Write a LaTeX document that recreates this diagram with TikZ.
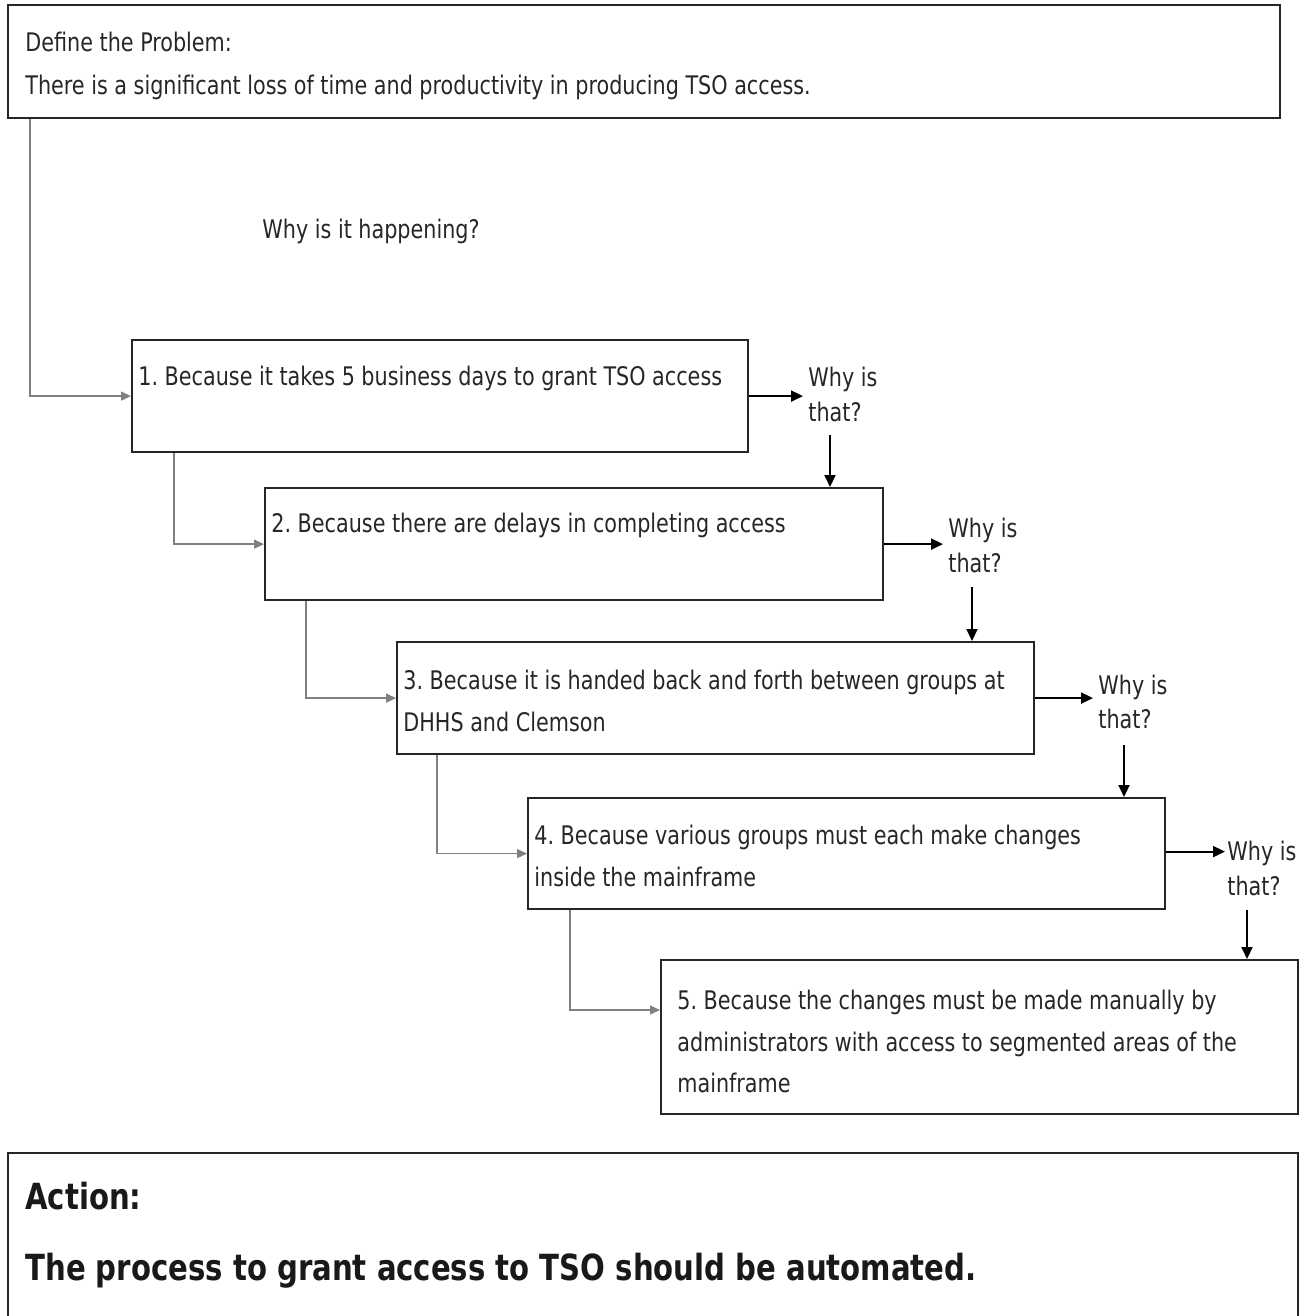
\documentclass[tikz,border=0pt]{standalone}
\usepackage{fontspec}
\setmainfont[FakeStretch=0.9]{DejaVu Sans Condensed}
\usetikzlibrary{arrows.meta,calc}
\frenchspacing

\begin{document}
\begin{tikzpicture}[x=0.5pt,y=-0.5pt,
  box/.style={draw=black!85, line width=1.1pt, inner sep=0, anchor=north west},
  txt/.style={inner sep=0, anchor=base west, text=black!85, font=\fontsize{12.8}{15}\selectfont},
  bigtxt/.style={inner sep=0, anchor=base west, text=black!90, font=\bfseries\fontsize{18}{21}\selectfont},
  link/.style={draw=gray, line width=0.7pt, -{Triangle[length=5pt,width=4.5pt]}},
  whyarrow/.style={draw=black, line width=1pt, -{Triangle[length=6pt,width=5.5pt]}},
]
\useasboundingbox (0,0) rectangle (1299,1316);
\clip (0,0) rectangle (1299,1316);

% problem statement
\node[box, minimum width=636pt, minimum height=56.5pt] (top) at (7,4) {};
\node[txt] (top1) at (25,52) {Define the Problem:};
\node[txt] (top2) at (25,95) {There is a significant loss of time and productivity in producing TSO access.};
\node[txt] (q) at (262,239) {Why is it happening?};

% the five whys
\node[box, minimum width=308pt, minimum height=56pt] (b1) at (131,339) {};
\node[txt] (t1) at (138,385) {1. Because it takes 5 business days to grant TSO access};

\node[box, minimum width=309pt, minimum height=56pt] (b2) at (264,487) {};
\node[txt] (t2) at (271,532) {2. Because there are delays in completing access};

\node[box, minimum width=318.5pt, minimum height=56pt] (b3) at (396,641) {};
\node[txt] (t3a) at (403,689) {3. Because it is handed back and forth between groups at};
\node[txt] (t3b) at (403,731) {DHHS and Clemson};

\node[box, minimum width=318.5pt, minimum height=55.5pt] (b4) at (527,797) {};
\node[txt] (t4a) at (534,844) {4. Because various groups must each make changes};
\node[txt] (t4b) at (534,886) {inside the mainframe};

\node[box, minimum width=318.5pt, minimum height=77pt] (b5) at (660,959) {};
\node[txt] (t5a) at (677,1009) {5. Because the changes must be made manually by};
\node[txt] (t5b) at (677,1051) {administrators with access to segmented areas of the};
\node[txt] (t5c) at (677,1092) {mainframe};

% "Why is that?" questions
\node[txt] (w1a) at (808,386) {Why is};
\node[txt] (w1b) at (808,421) {that?};
\node[txt] (w2a) at (948,537) {Why is};
\node[txt] (w2b) at (948,572) {that?};
\node[txt] (w3a) at (1098,694) {Why is};
\node[txt] (w3b) at (1098,728) {that?};
\node[txt] (w4a) at (1227,860) {Why is};
\node[txt] (w4b) at (1227,895) {that?};

% grey links from each level to the next
\draw[link] ($(top.south west)+(23,0)$) |- (b1.west);
\draw[link] ($(b1.south west)+(43,0)$) |- (b2.west);
\draw[link] ($(b2.south west)+(42,0)$) |- (b3.west);
\draw[link] ($(b3.south west)+(41,0)$) |- (b4.west);
\draw[link] ($(b4.south west)+(43,0)$) |- ($(b5.north west)+(0,51)$);

% arrows out to the questions
\draw[whyarrow, shorten >=2.5pt] (b1.east) -- (b1.east -| w1a.west);
\draw[whyarrow, shorten >=2.5pt] (b2.east) -- (b2.east -| w2a.west);
\draw[whyarrow, shorten >=2.5pt] (b3.east) -- (b3.east -| w3a.west);
\coordinate (o4) at ($(b4.east)+(0,-2)$);
\draw[whyarrow, shorten >=1pt] (o4) -- (o4 -| w4a.west);

% arrows down from the questions
\coordinate (d1) at (830,435);
\coordinate (d2) at (972,587);
\coordinate (d3) at (1124,745);
\coordinate (d4) at (1247,910);
\draw[whyarrow] (d1) -- (d1 |- b2.north);
\draw[whyarrow] (d2) -- (d2 |- b3.north);
\draw[whyarrow] (d3) -- (d3 |- b4.north);
\draw[whyarrow] (d4) -- (d4 |- b5.north);

% action
\node[box, minimum width=645pt, minimum height=100pt] (act) at (7,1152) {};
\node[bigtxt] (act1) at (25,1209) {Action:};
\node[bigtxt] (act2) at (25,1280) {The process to grant access to TSO should be automated.};
\end{tikzpicture}
\end{document}
